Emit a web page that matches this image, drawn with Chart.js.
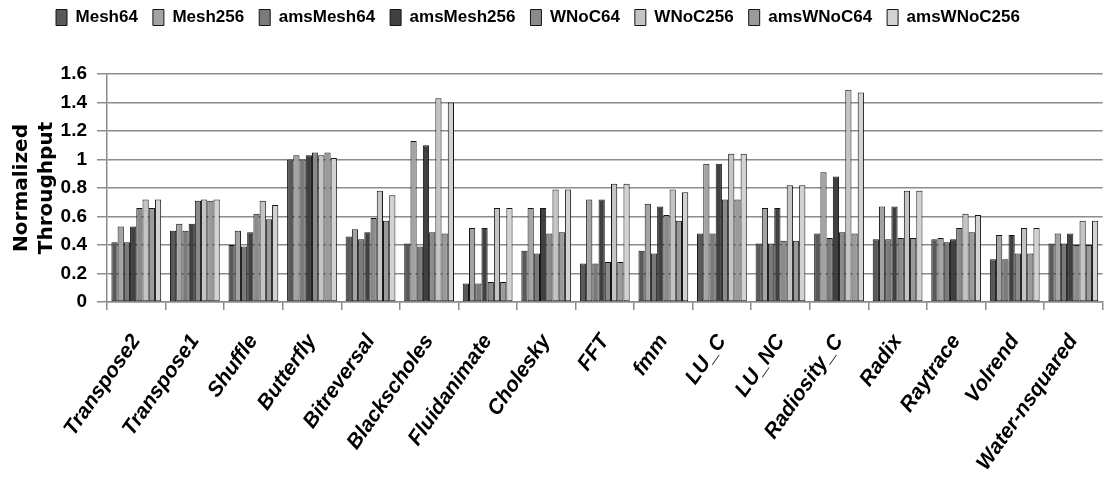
<!DOCTYPE html>
<html>
<head>
<meta charset="utf-8">
<title>Normalized Throughput</title>
<script src="https://cdn.jsdelivr.net/npm/chart.js@4.4.1/dist/chart.umd.min.js"></script>
<style>
  html, body { margin: 0; padding: 0; background: #ffffff; }
  #wrap { width: 1114px; height: 484px; position: relative; }
</style>
</head>
<body>
<div id="wrap"><canvas id="chart"></canvas></div>
<script>
// Benchmarks on the x axis
const benchmarks = ['Transpose2', 'Transpose1', 'Shuffle', 'Butterfly', 'Bitreversal', 'Blackscholes',
  'Fluidanimate', 'Cholesky', 'FFT', 'fmm', 'LU_C', 'LU_NC', 'Radiosity_C', 'Radix', 'Raytrace',
  'Volrend', 'Water-nsquared'];

// Normalized throughput per configuration
const mesh64      = [0.42, 0.50, 0.40, 1.00, 0.46, 0.41, 0.13, 0.36, 0.27, 0.36, 0.48, 0.41, 0.48, 0.44, 0.44, 0.30, 0.41];
const mesh256     = [0.53, 0.55, 0.50, 1.03, 0.51, 1.13, 0.52, 0.66, 0.72, 0.69, 0.97, 0.66, 0.91, 0.67, 0.45, 0.47, 0.48];
const amsMesh64   = [0.42, 0.50, 0.39, 1.00, 0.44, 0.39, 0.13, 0.34, 0.27, 0.34, 0.48, 0.41, 0.45, 0.44, 0.42, 0.30, 0.41];
const amsMesh256  = [0.53, 0.55, 0.49, 1.03, 0.49, 1.10, 0.52, 0.66, 0.72, 0.67, 0.97, 0.66, 0.88, 0.67, 0.44, 0.47, 0.48];
const wnoc64      = [0.66, 0.71, 0.62, 1.05, 0.59, 0.49, 0.14, 0.48, 0.28, 0.61, 0.72, 0.43, 0.49, 0.45, 0.52, 0.34, 0.40];
const wnoc256     = [0.72, 0.72, 0.71, 1.03, 0.78, 1.43, 0.66, 0.79, 0.83, 0.79, 1.04, 0.82, 1.49, 0.78, 0.62, 0.52, 0.57];
const amsWnoc64   = [0.66, 0.71, 0.58, 1.05, 0.57, 0.48, 0.14, 0.49, 0.28, 0.57, 0.72, 0.43, 0.48, 0.45, 0.49, 0.34, 0.40];
const amsWnoc256  = [0.72, 0.72, 0.68, 1.01, 0.75, 1.40, 0.66, 0.79, 0.83, 0.77, 1.04, 0.82, 1.47, 0.78, 0.61, 0.52, 0.57];

const seriesNames = ['Mesh64', 'Mesh256', 'amsMesh64', 'amsMesh256', 'WNoC64', 'WNoC256', 'amsWNoC64', 'amsWNoC256'];
const seriesData = [mesh64, mesh256, amsMesh64, amsMesh256, wnoc64, wnoc256, amsWnoc64, amsWnoc256];
const seriesColors = ['#595959', '#a3a3a3', '#7a7a7a', '#404040', '#8a8a8a', '#c4c4c4', '#9a9a9a', '#d2d2d2'];

const yTicks = [0, 0.2, 0.4, 0.6, 0.8, 1, 1.2, 1.4, 1.6];

const sans = "'Liberation Sans', Arial, sans-serif";
const gridColor = '#8c8c8c';

// Fixed legend band height, and nudge the legend row a bit left like the original
const legendTweak = {
  id: 'legendTweak',
  beforeLayout(chart) {
    const legend = chart.legend;
    if (legend && !legend._patched) {
      const fit = legend.fit.bind(legend);
      legend.fit = function () {
        fit();
        this.height = 80;
      };
      const draw = legend.draw.bind(legend);
      legend.draw = function () {
        this.left -= 18;
        this.right -= 18;
        draw();
        this.left += 18;
        this.right += 18;
      };
      legend._patched = true;
    }
  }
};

const ctx = document.getElementById('chart').getContext('2d');
new Chart(ctx, {
  type: 'bar',
  data: {
    labels: benchmarks,
    datasets: seriesNames.map((name, i) => ({
      label: name,
      data: seriesData[i],
      backgroundColor: seriesColors[i],
      borderColor: '#151515',
      borderWidth: 1,
      borderSkipped: false,
      categoryPercentage: 0.85,
      barPercentage: 1.0
    }))
  },
  options: {
    responsive: true,
    maintainAspectRatio: false,
    animation: false,
    layout: {
      padding: { top: -6, right: 2, left: 0, bottom: 0 }
    },
    scales: {
      x: {
        grid: {
          drawOnChartArea: false,
          drawTicks: true,
          tickLength: 8,
          color: gridColor,
          lineWidth: 1.5
        },
        border: { display: true, color: gridColor, width: 1.5 },
        ticks: {
          autoSkip: false,
          minRotation: 55,
          maxRotation: 55,
          padding: 20,
          color: '#000',
          font: { family: sans, size: 21, weight: 'bold', style: 'italic' }
        },
        afterFit(scale) { scale.height = 182; }
      },
      y: {
        min: 0,
        max: 1.6,
        afterBuildTicks(scale) { scale.ticks = yTicks.map(v => ({ value: v })); },
        grid: {
          color: gridColor,
          lineWidth: 1.5,
          tickLength: 10
        },
        border: { display: true, color: gridColor, width: 1.5 },
        ticks: {
          padding: 10,
          color: '#000',
          callback: (v) => String(v),
          font: { family: sans, size: 19, weight: 'bold' }
        },
        title: {
          display: true,
          text: ['Normalized', 'Throughput'],
          color: '#000',
          padding: { top: 9, bottom: 0 },
          font: { family: "'DejaVu Sans', sans-serif", size: 20, weight: 'bold', lineHeight: 1.25 }
        },
        afterFit(scale) { scale.width = 107; }
      }
    },
    plugins: {
      legend: {
        position: 'top',
        labels: {
          boxWidth: 11,
          boxHeight: 16,
          padding: 15,
          color: '#000',
          font: { family: sans, size: 17, weight: 'bold' }
        }
      },
      tooltip: { enabled: false }
    }
  },
  plugins: [legendTweak]
});
</script>
</body>
</html>
